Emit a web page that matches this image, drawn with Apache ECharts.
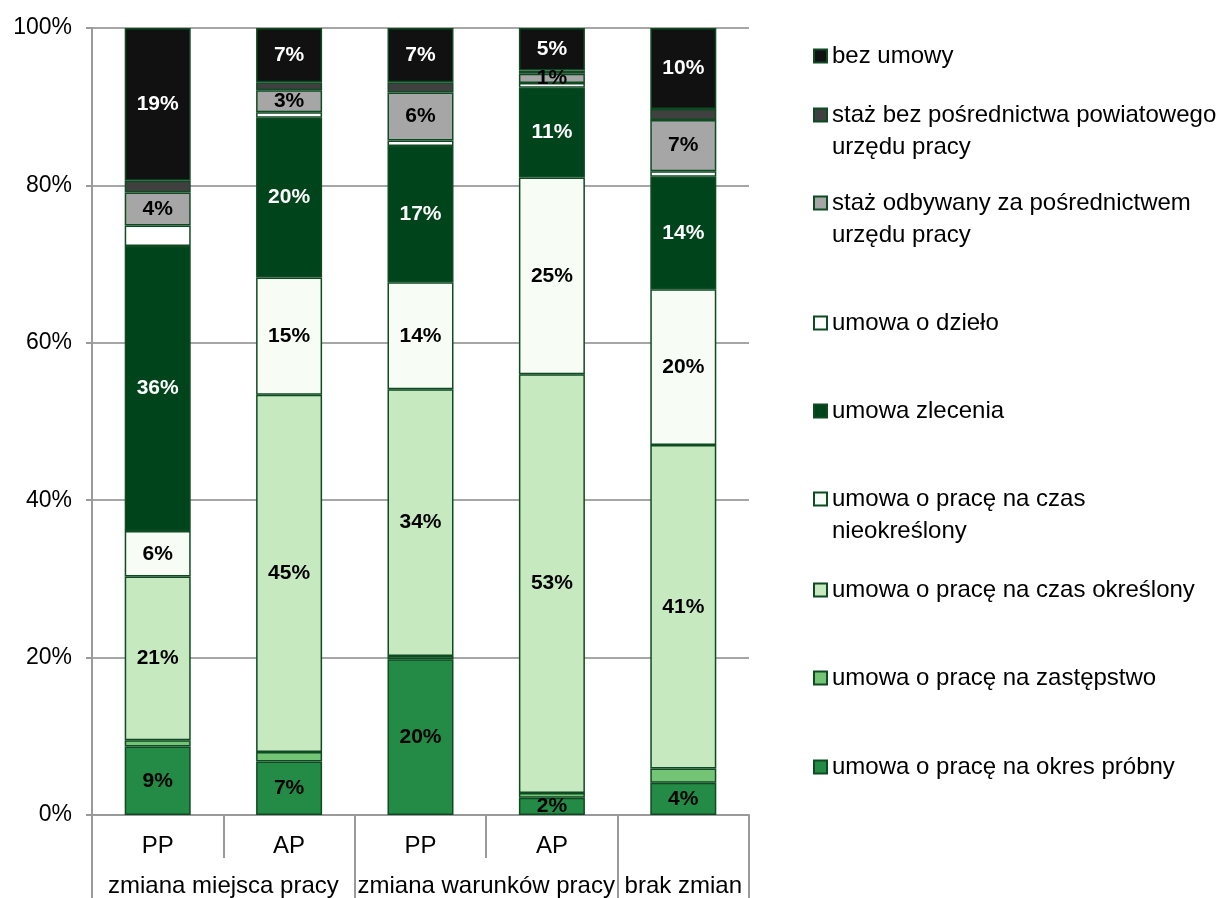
<!DOCTYPE html>
<html>
<head>
<meta charset="utf-8">
<script src="https://cdn.jsdelivr.net/npm/echarts@6/dist/echarts.min.js"></script>
<style>html,body{margin:0;padding:0;background:#fff}#c{width:1218px;height:898px}</style>
</head>
<body>
<div id="c"></div>
<script>
const categories = ['PP', 'AP', 'PP', 'AP', ''];
const groups = ['zmiana miejsca pracy', 'zmiana warunków pracy', 'brak zmian'];
const groupCenters = [1, 3, 4.5];
const groupBounds = [0, 2, 4, 5];
const yTicks = [0, 20, 40, 60, 80, 100];

const seriesNames = [
  'umowa o pracę na okres próbny',
  'umowa o pracę na zastępstwo',
  'umowa o pracę na czas określony',
  'umowa o pracę na czas nieokreślony',
  'umowa zlecenia',
  'umowa o dzieło',
  'staż odbywany za pośrednictwem urzędu pracy',
  'staż bez pośrednictwa powiatowego urzędu pracy',
  'bez umowy'
];
const legendLines = [
  ['umowa o pracę na okres próbny'],
  ['umowa o pracę na zastępstwo'],
  ['umowa o pracę na czas określony'],
  ['umowa o pracę na czas', 'nieokreślony'],
  ['umowa zlecenia'],
  ['umowa o dzieło'],
  ['staż odbywany za pośrednictwem', 'urzędu pracy'],
  ['staż bez pośrednictwa powiatowego', 'urzędu pracy'],
  ['bez umowy']
];
const probny       = [8.7, 6.8, 19.8, 2.2, 4.1];
const zastepstwo   = [0.8, 1.2, 0.4, 0.6, 1.8];
const okreslony    = [20.8, 45.4, 33.9, 53.2, 41.1];
const nieokreslony = [5.8, 14.9, 13.6, 25.0, 19.8];
const zlecenie     = [36.2, 20.3, 17.3, 11.4, 14.3];
const dzielo       = [2.6, 0.7, 0.7, 0.6, 0.7];
const stazPup      = [4.2, 2.8, 6.1, 1.2, 6.5];
const stazBez      = [1.5, 1.0, 1.3, 0.4, 1.4];
const bezUmowy     = [19.4, 6.9, 6.9, 5.4, 10.3];
const seriesValues = [probny, zastepstwo, okreslony, nieokreslony, zlecenie, dzielo, stazPup, stazBez, bezUmowy];

const colors = ['#238b45', '#74c476', '#c7e9c0', '#f7fcf5', '#00441b', '#ffffff', '#a6a6a6', '#404040', '#111111'];
const labelShow = [true, false, true, true, true, false, true, false, true];
const labelColor = ['#000', '#000', '#000', '#000', '#fff', '#000', '#000', '#000', '#fff'];
// legend marker centre y positions (first text line)
const legendY = [767, 678, 590, 499, 411, 323, 203, 115, 56];

const FONT = '"Liberation Sans", Arial, sans-serif';
const chart = echarts.init(document.getElementById('c'));

const legends = seriesNames.map((n, i) => {
  const lines = legendLines[i];
  const twoLine = lines.length > 1;
  // a blank leading line keeps the marker level with the first text line
  const text = twoLine ? '\n' + lines.join('\n') : lines[0];
  return {
    data: [{ name: n, icon: 'rect' }],
    left: 813,
    top: legendY[i] - (twoLine ? 48 : 16),
    padding: 0,
    itemWidth: 13,
    itemHeight: 13,
    selectedMode: false,
    formatter: () => text,
    textStyle: { fontFamily: FONT, fontSize: 24, color: '#000', lineHeight: 32 }
  };
});

const option = {
  animation: false,
  textStyle: { fontFamily: FONT },
  legend: legends,
  grid: { left: 92, right: 469, top: 28, bottom: 83, containLabel: false },
  xAxis: [
    {
      type: 'category',
      data: categories,
      axisLine: { lineStyle: { color: '#9a9a9a', width: 2 } },
      axisTick: { show: true, length: 43, lineStyle: { color: '#9a9a9a', width: 2 } },
      axisLabel: { color: '#000', fontSize: 24, fontFamily: FONT, margin: 19 },
      splitLine: { show: false }
    },
    {
      type: 'value',
      min: 0, max: 5,
      position: 'bottom',
      axisLine: { show: false },
      splitLine: { show: false },
      axisTick: { show: true, length: 83, customValues: groupBounds, lineStyle: { color: '#9a9a9a', width: 2 } },
      axisLabel: {
        show: true, customValues: groupCenters, margin: 59, color: '#000', fontSize: 24, fontFamily: FONT,
        formatter: v => groups[groupCenters.indexOf(v)]
      }
    }
  ],
  yAxis: {
    type: 'value', min: 0, max: 100, interval: 20,
    axisLine: { show: true, lineStyle: { color: '#9a9a9a', width: 2 } },
    axisTick: { show: true, length: 6, lineStyle: { color: '#9a9a9a', width: 2 } },
    axisLabel: { color: '#000', fontSize: 23, fontFamily: FONT, margin: 20, formatter: '{value}%' },
    splitLine: { lineStyle: { color: '#a6a6a6', width: 2 } }
  },
  series: seriesNames.map((n, i) => ({
    name: n,
    type: 'bar',
    stack: 'all',
    xAxisIndex: 0,
    barWidth: 66,
    data: seriesValues[i],
    itemStyle: { color: colors[i], borderColor: '#0e4a22', borderWidth: 1.5 },
    label: {
      show: labelShow[i], position: 'inside', color: labelColor[i],
      fontFamily: FONT, fontSize: 21, fontWeight: 'bold',
      formatter: p => Math.round(p.value) + '%'
    }
  }))
};
chart.setOption(option);
</script>
</body>
</html>
